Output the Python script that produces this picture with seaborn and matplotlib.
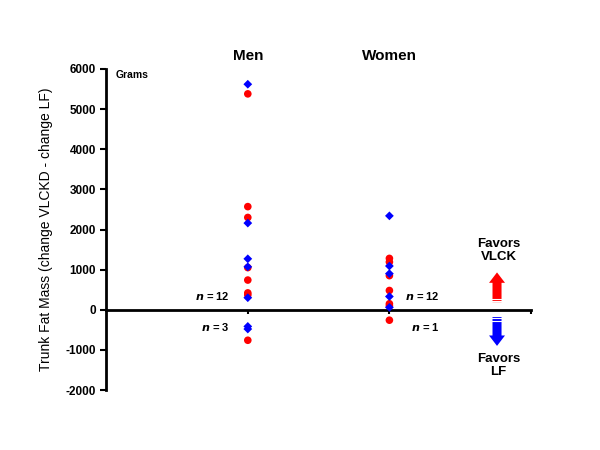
import pandas as pd
import seaborn as sns
import matplotlib.pyplot as plt

# --- data (grams) ---
groups = ['Men', 'Women']
men_red = [5380, 2570, 2300, 1050, 740, 420, 370, -760]
men_blue = [5620, 2160, 1270, 1070, 300, -415, -480]
women_red = [1280, 1190, 850, 480, 150, 100, -260]
women_blue = [2340, 1090, 900, 330, 60]
n_labels = {'Men': ('12', '3'), 'Women': ('12', '1')}

rows = []
for g, reds, blues in [('Men', men_red, men_blue), ('Women', women_red, women_blue)]:
    for v in reds:
        rows.append({'group': g, 'value': v, 'kind': 'red'})
    for v in blues:
        rows.append({'group': g, 'value': v, 'kind': 'blue'})
df = pd.DataFrame(rows)
df['x'] = df['group'].map({g: i + 1 for i, g in enumerate(groups)})

sns.set_style('white', {'text.color': 'black', 'axes.labelcolor': 'black',
                        'xtick.color': 'black', 'ytick.color': 'black',
                        'axes.edgecolor': 'black'})
plt.rcParams['font.family'] = ['Liberation Sans', 'DejaVu Sans']
plt.rcParams['axes.unicode_minus'] = False

fig = plt.figure(figsize=(6, 4.5), dpi=100)
ax = fig.add_axes([0.177, 0.1333, 0.708, 0.7134])

sns.scatterplot(data=df[df['kind'] == 'red'], x='x', y='value', color='#ff0000',
                marker='o', s=30, edgecolor='none', ax=ax, zorder=3)
sns.scatterplot(data=df[df['kind'] == 'blue'], x='x', y='value', color='#0000ff',
                marker='D', s=20, edgecolor='none', ax=ax, zorder=4)

ax.set_xlim(0, 3)
ax.set_ylim(-2000, 6000)
ax.set_yticks(range(-2000, 6001, 1000))
ax.set_xticks([1, 2, 3])
ax.set_xticklabels([])
ax.tick_params(axis='y', direction='out', length=4, width=1.5, labelsize=8.5, left=True)
ax.tick_params(axis='x', direction='out', length=3, width=1.5, bottom=True)
for lbl in ax.get_yticklabels():
    lbl.set_fontweight('bold')

ax.spines['top'].set_visible(False)
ax.spines['right'].set_visible(False)
ax.spines['bottom'].set_position(('data', 0))
ax.spines['left'].set_linewidth(2)
ax.spines['bottom'].set_linewidth(2)
ax.set_xlabel('')
ax.set_ylabel('Trunk Fat Mass (change VLCKD - change LF)', fontsize=10, labelpad=9)

# group titles and annotations
for i, g in enumerate(groups):
    ax.text(i + 1, 6320, g, ha='center', va='center', fontsize=11, fontweight='bold')
ax.text(0.07, 5850, 'Grams', fontsize=7.5, fontweight='bold', va='center')

for i, g in enumerate(groups):
    up, down = n_labels[g]
    if g == 'Men':
        xpos, ha = 0.87, 'right'
    else:
        xpos, ha = 2.11, 'left'
    ax.text(xpos, 340, r'$\mathbfit{n}$ = ' + up, ha=ha, va='center', fontsize=8, fontweight='bold')
    ax.text(xpos if ha == 'right' else xpos + 0.04, -420, r'$\mathbfit{n}$ = ' + down,
            ha=ha, va='center', fontsize=8, fontweight='bold')

# favors arrows
style = 'simple,head_width=1.15,head_length=0.75,tail_width=0.65'
ax.annotate('', xy=(2.76, 1000), xytext=(2.76, 120),
            arrowprops=dict(arrowstyle=style, color='#ff0000', lw=0))
ax.annotate('', xy=(2.76, -970), xytext=(2.76, -100),
            arrowprops=dict(arrowstyle=style, color='#0000ff', lw=0))
for yv in [160, 220, 280, -150, -210, -270]:
    ax.plot([2.72, 2.80], [yv, yv], color='white', lw=0.8, zorder=5, clip_on=False)

ax.text(2.77, 1470, 'Favors\nVLCK', ha='center', va='center', fontsize=9.5,
        fontweight='bold', linespacing=1.1)
ax.text(2.77, -1390, 'Favors\nLF', ha='center', va='center', fontsize=9.5,
        fontweight='bold', linespacing=1.1)

fig.savefig('out.png', dpi=100)
